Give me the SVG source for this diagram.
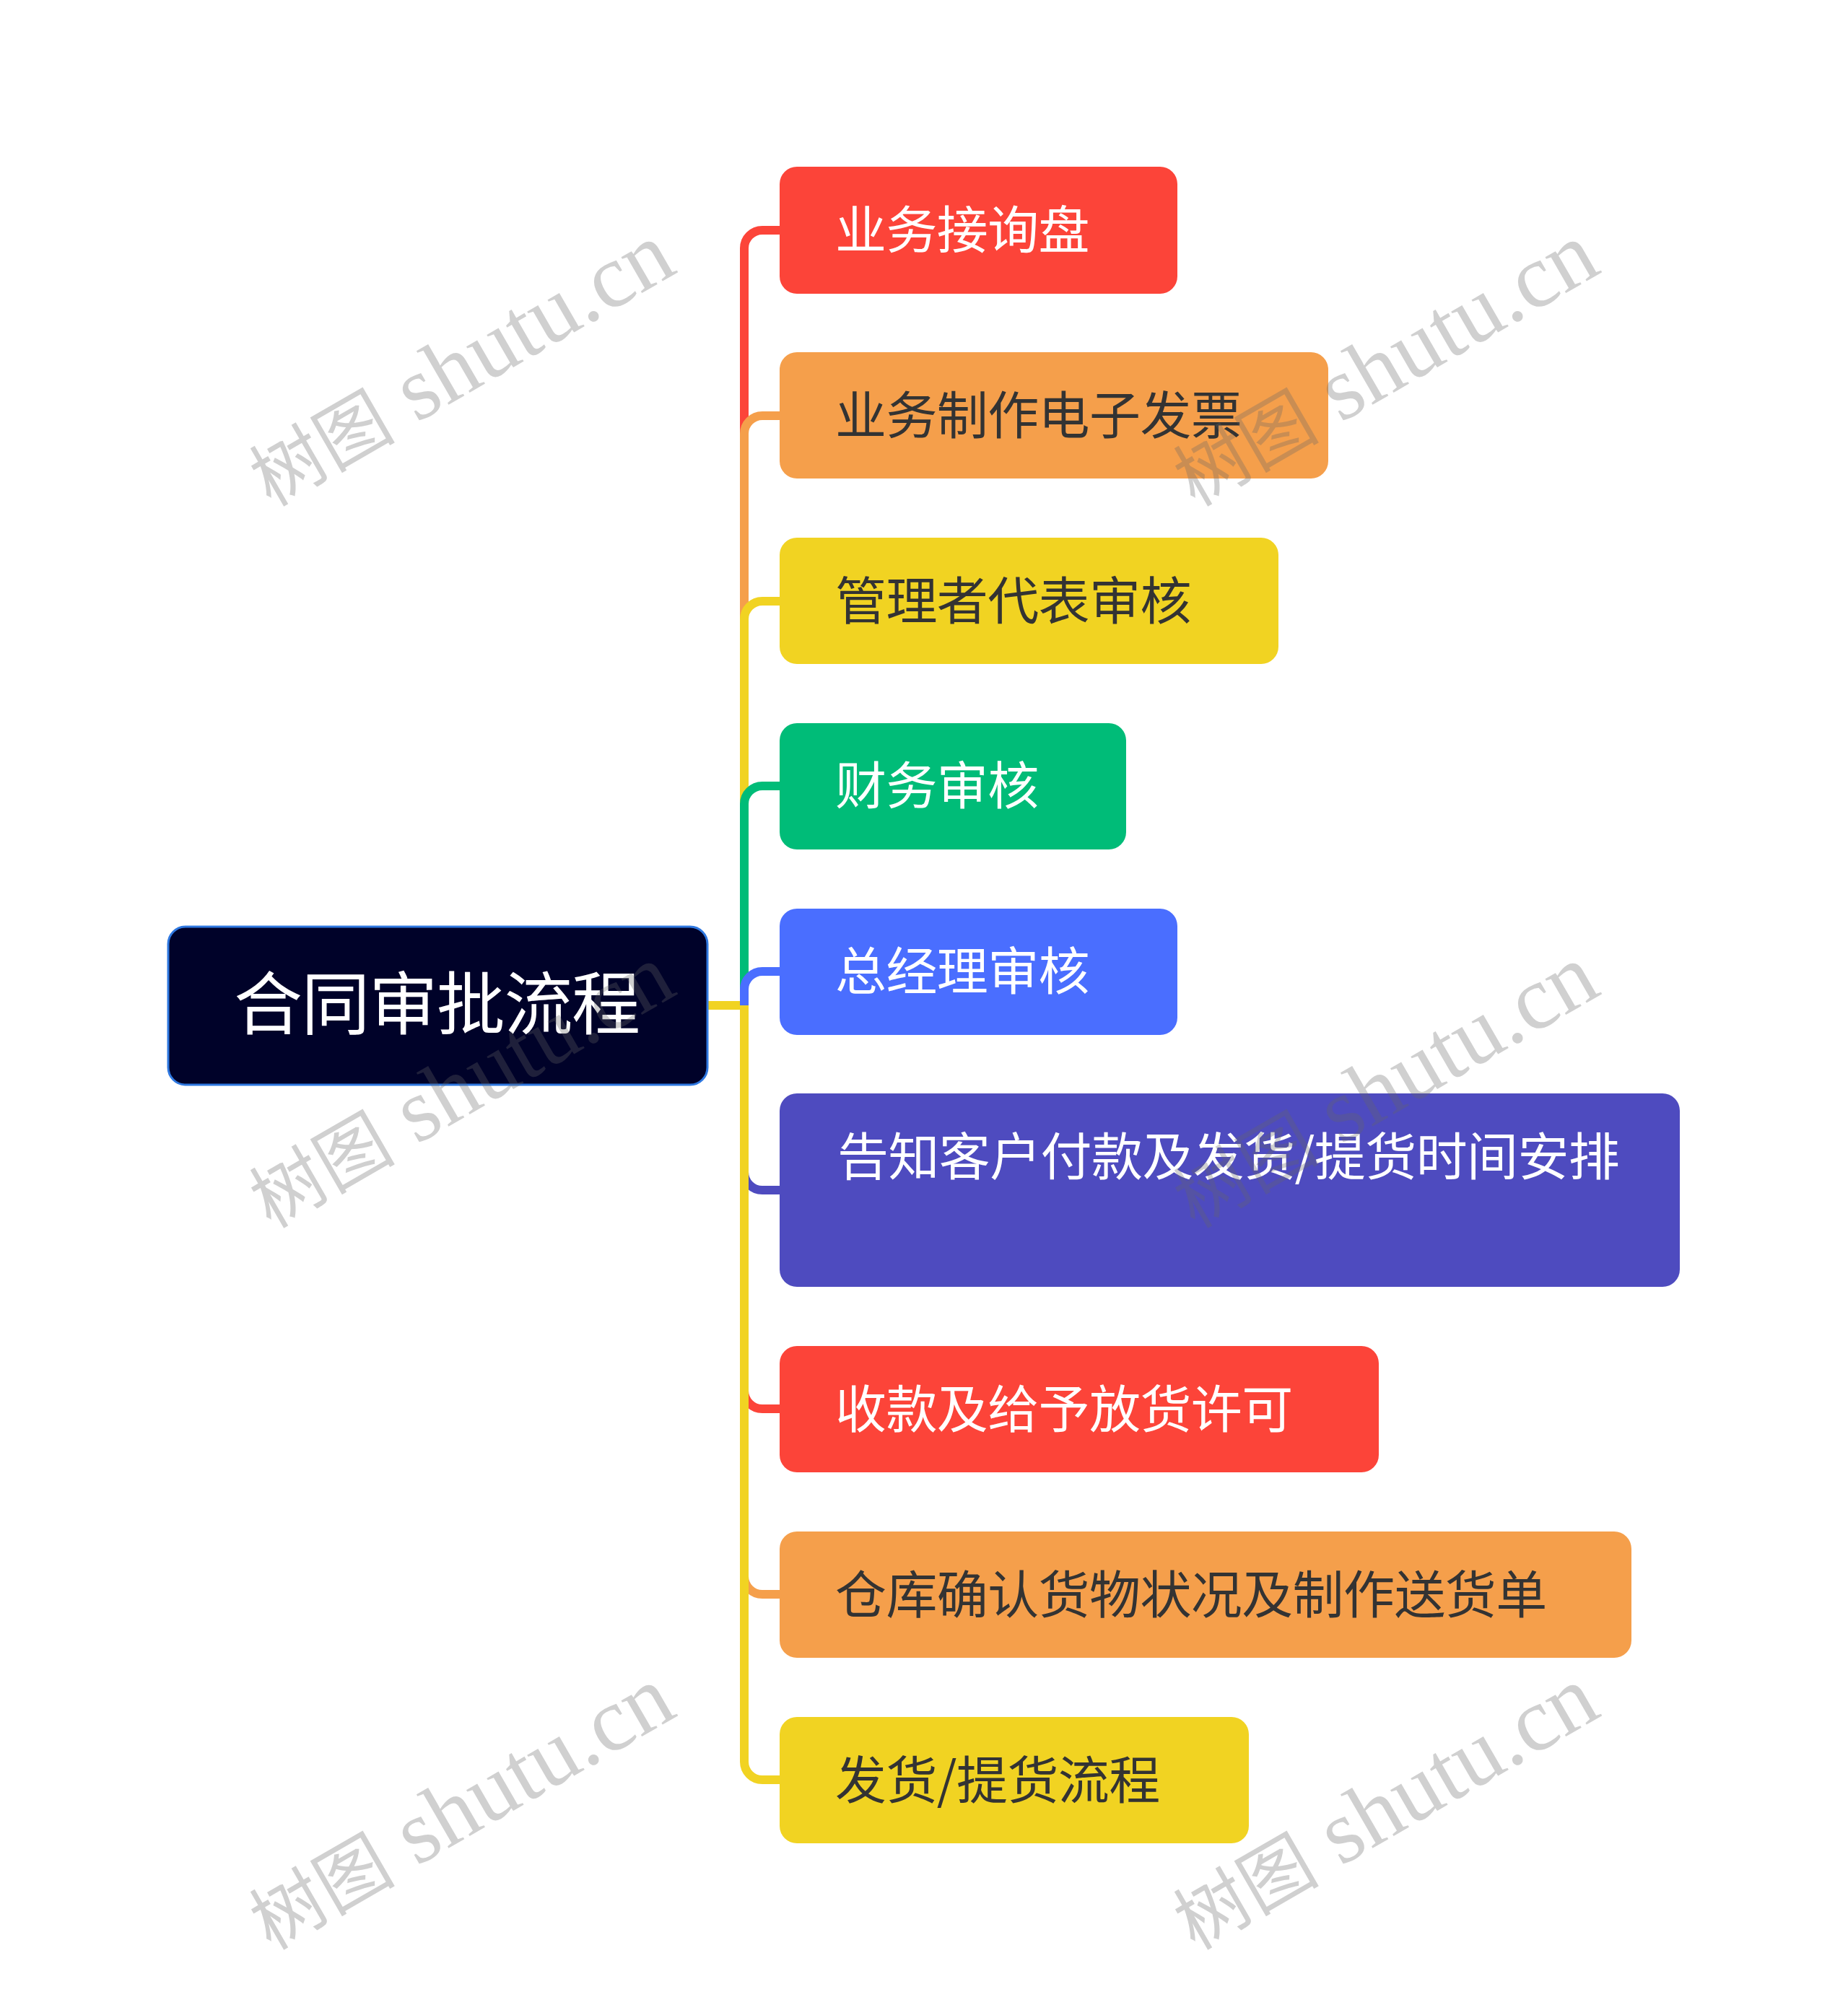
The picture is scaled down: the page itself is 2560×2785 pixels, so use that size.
<svg xmlns="http://www.w3.org/2000/svg" width="2560" height="2785" viewBox="0 0 2560 2785">
<style>
.c{fill:none;stroke-width:12}
.t{font-family:"Noto Sans CJK SC","Noto Sans",sans-serif;font-size:71px;letter-spacing:-.6px}
.w{fill:#fff}.d{fill:#333}
.wm{font-family:"Liberation Serif","Noto Sans CJK SC",serif;font-size:125px;fill:#666;opacity:.3}
</style>
<defs><text id="wmk" class="wm" transform="translate(375 703) rotate(-30)"><tspan style="font-size:101px">树图</tspan> shutu.cn</text></defs>
<rect width="2560" height="2785" fill="#fff"/>
<g id="connectors">
<path class="c" stroke="#F1D322" d="M981 1393H1028"/>
<path class="c" stroke="#FC4439" d="M1031 1393V344A25 25 0 0 1 1056 319H1082"/>
<path class="c" stroke="#F59F4B" d="M1031 1393V601A25 25 0 0 1 1056 576H1082"/>
<path class="c" stroke="#F1D322" d="M1031 1393V858A25 25 0 0 1 1056 833H1082"/>
<path class="c" stroke="#00BC78" d="M1031 1393V1114A25 25 0 0 1 1056 1089H1082"/>
<path class="c" stroke="#4A6EFF" d="M1031 1393V1371A25 25 0 0 1 1056 1346H1082"/>
<path class="c" stroke="#4E4BBF" d="M1031 1393V1624A25 25 0 0 0 1056 1649H1082"/>
<path class="c" stroke="#FC4439" d="M1031 1393V1927A25 25 0 0 0 1056 1952H1082"/>
<path class="c" stroke="#F59F4B" d="M1031 1393V2184A25 25 0 0 0 1056 2209H1082"/>
<path class="c" stroke="#F1D322" d="M1031 1393V2441A25 25 0 0 0 1056 2466H1082"/>
</g>
<g id="root"><rect x="233" y="1284" width="747" height="219" rx="24" fill="#000229" stroke="#2F78E0" stroke-width="3"/><text class="t w" x="324" y="1426" style="font-size:95px;letter-spacing:-1.4px">合同审批流程</text></g>
<g id="n1"><rect x="1080" y="231" width="551" height="176" rx="24" fill="#FC4439"/><text class="t w" x="1157" y="344">业务接询盘</text></g>
<g id="n2"><rect x="1080" y="488" width="760" height="175" rx="24" fill="#F59F4B"/><text class="t d" x="1157" y="601">业务制作电子发票</text></g>
<g id="n3"><rect x="1080" y="745" width="691" height="175" rx="24" fill="#F1D322"/><text class="t d" x="1157" y="858">管理者代表审核</text></g>
<g id="n4"><rect x="1080" y="1002" width="480" height="175" rx="24" fill="#00BC78"/><text class="t w" x="1157" y="1114">财务审核</text></g>
<g id="n5"><rect x="1080" y="1259" width="551" height="175" rx="24" fill="#4A6EFF"/><text class="t w" x="1157" y="1371">总经理审核</text></g>
<g id="n6"><rect x="1080" y="1515" width="1247" height="268" rx="24" fill="#4E4BBF"/><text class="t w" x="1160" y="1628">告知客户付款及发货/提货时间安排</text></g>
<g id="n7"><rect x="1080" y="1865" width="830" height="175" rx="24" fill="#FC4439"/><text class="t w" x="1157" y="1978">收款及给予放货许可</text></g>
<g id="n8"><rect x="1080" y="2122" width="1180" height="175" rx="24" fill="#F59F4B"/><text class="t d" x="1157" y="2235">仓库确认货物状况及制作送货单</text></g>
<g id="n9"><rect x="1080" y="2379" width="650" height="175" rx="24" fill="#F1D322"/><text class="t d" x="1157" y="2492">发货/提货流程</text></g>
<use href="#wmk"/>
<use href="#wmk" transform="translate(1280 0)"/>
<use href="#wmk" transform="translate(0 1000)"/>
<use href="#wmk" transform="translate(1280 1000)"/>
<use href="#wmk" transform="translate(0 2000)"/>
<use href="#wmk" transform="translate(1280 2000)"/>
</svg>
